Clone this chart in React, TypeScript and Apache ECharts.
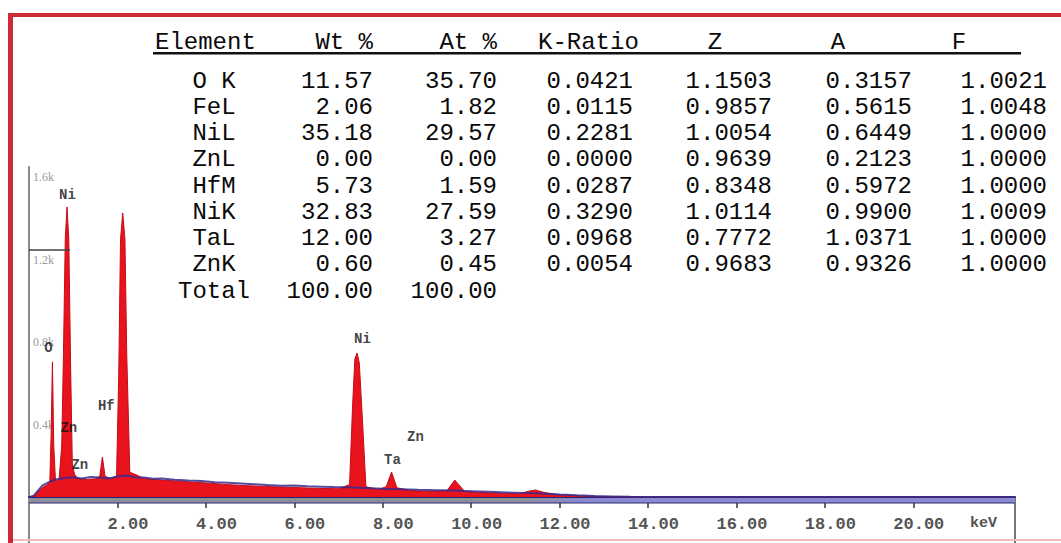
import React, { useEffect, useRef } from "react";
import * as echarts from "echarts";

// ---- spectrum data (keV, counts) ----
const energyRed = [0, 0.12, 0.2, 0.3, 0.4, 0.47, 0.5, 0.53, 0.56, 0.6, 0.68, 0.74, 0.78, 0.82, 0.86, 0.9, 0.94, 0.98, 1.03, 1.08, 1.15, 1.3, 1.5, 1.6, 1.66, 1.72, 1.85, 1.98, 2.03, 2.07, 2.12, 2.17, 2.21, 2.28, 2.45, 2.6, 3.0, 3.5, 4.0, 4.5, 5.0, 5.5, 6.0, 6.5, 7.0, 7.25, 7.32, 7.37, 7.42, 7.47, 7.53, 7.62, 7.9, 8.08, 8.2, 8.32, 8.6, 9.0, 9.45, 9.57, 9.63, 9.72, 9.85, 10.2, 10.7, 11.1, 11.3, 11.45, 11.65, 12.0, 12.5, 13.0, 14.0, 22.3];
const countsRed = [0, 8, 25, 45, 58, 70, 300, 655, 250, 75, 85, 250, 700, 1250, 1406, 1250, 650, 160, 110, 95, 88, 85, 88, 100, 194, 100, 90, 100, 600, 1250, 1377, 1250, 700, 120, 105, 90, 82, 75, 68, 60, 54, 50, 46, 42, 40, 60, 450, 670, 698, 650, 420, 50, 36, 50, 121, 45, 32, 28, 30, 65, 82, 60, 27, 22, 18, 16, 28, 34, 22, 10, 5, 2, 0, 0];

const energyBlue = [0, 0.1, 0.2, 0.3, 0.45, 0.6, 0.8, 1.0, 1.2, 1.4, 1.6, 1.8, 2.0, 2.2, 2.4, 2.6, 2.8, 3.0, 3.3, 3.6, 3.9, 4.2, 4.5, 4.8, 5.1, 5.4, 5.7, 6.0, 6.3, 6.6, 6.9, 7.2, 7.6, 8.0, 8.4, 8.8, 9.2, 9.6, 10.0, 10.4, 10.8, 11.2, 11.6, 12.0, 12.4, 12.8, 13.2, 13.6, 14.0, 22.3];
const countsBlue = [0, 4, 30, 55, 72, 85, 92, 96, 90, 97, 94, 90, 99, 104, 96, 94, 88, 90, 84, 80, 77, 72, 69, 66, 62, 58, 55, 56, 52, 50, 48, 47, 44, 40, 38, 35, 33, 31, 28, 25, 22, 20, 17, 12, 8, 5, 3, 1, 0, 0];

const xTicks = [2, 4, 6, 8, 10, 12, 14, 16, 18, 20];
const yTicks = [400, 800, 1200, 1600];
const markerCount = 1200;

// peak labels: [keV, counts, name]
const peakLabels: [number, number, string][] = [
  [0.87, 1465, "Ni"],
  [0.44, 723, "O"],
  [1.75, 443, "Hf"],
  [0.9, 333, "Zn"],
  [1.15, 154, "Zn"],
  [7.54, 766, "Ni"],
  [8.22, 178, "Ta"],
  [8.74, 289, "Zn"],
];

// ---- table data ----
const tableHeaders = ["Element", "Wt %", "At %", "K-Ratio", "Z", "A", "F"];
const elements = ["O K", "FeL", "NiL", "ZnL", "HfM", "NiK", "TaL", "ZnK", "Total"];
const wtPct = ["11.57", "2.06", "35.18", "0.00", "5.73", "32.83", "12.00", "0.60", "100.00"];
const atPct = ["35.70", "1.82", "29.57", "0.00", "1.59", "27.59", "3.27", "0.45", "100.00"];
const kRatio = ["0.0421", "0.0115", "0.2281", "0.0000", "0.0287", "0.3290", "0.0968", "0.0054"];
const zCol = ["1.1503", "0.9857", "1.0054", "0.9639", "0.8348", "1.0114", "0.7772", "0.9683"];
const aCol = ["0.3157", "0.5615", "0.6449", "0.2123", "0.5972", "0.9900", "1.0371", "0.9326"];
const fCol = ["1.0021", "1.0048", "1.0000", "1.0000", "1.0000", "1.0009", "1.0000", "1.0000"];

const MONO = "'Liberation Mono', 'DejaVu Sans Mono', monospace";

export default function App() {
  const ref = useRef<HTMLDivElement>(null);
  useEffect(() => {
    if (!ref.current) return;
    const chart = echarts.init(ref.current, undefined, { renderer: "svg" });

    const tableFont = { fontFamily: MONO, fontSize: 24, fill: "#0a0a0a" };
    const rowY = (i: number) => 81 + i * 26.25;
    const graphics: any[] = [];

    // frame
    graphics.push({ type: "rect", shape: { x: 8, y: 13, width: 1060, height: 4 }, style: { fill: "#cc2a36" }, z: 100 });
    graphics.push({ type: "rect", shape: { x: 8, y: 13, width: 5, height: 530 }, style: { fill: "#cc2a36" }, z: 100 });
    graphics.push({ type: "rect", shape: { x: 13, y: 539, width: 1048, height: 2 }, style: { fill: "#f3b9bd" }, z: 100 });
    // plot chrome below axis
    graphics.push({
      type: "rect",
      shape: { x: 29, y: 498, width: 986, height: 5 },
      style: {
        fill: new echarts.graphic.LinearGradient(0, 0, 1, 0, [
          { offset: 0, color: "#8f8f9c" },
          { offset: 0.5, color: "#8f8f9c" },
          { offset: 0.56, color: "#8a8ad0" },
          { offset: 1, color: "#8a8ad0" },
        ]),
      },
      z: 1,
    });
    graphics.push({ type: "line", shape: { x1: 29, y1: 503, x2: 1015, y2: 503 }, style: { stroke: "#2a2a70", lineWidth: 1 }, z: 1 });
    graphics.push({ type: "line", shape: { x1: 29, y1: 497, x2: 29, y2: 543 }, style: { stroke: "#888", lineWidth: 2 } });
    graphics.push({ type: "line", shape: { x1: 1015, y1: 497, x2: 1015, y2: 543 }, style: { stroke: "#777", lineWidth: 2 } });
    graphics.push({ type: "text", x: 970, y: 523, style: { text: "keV", fontFamily: MONO, fontSize: 15, fontWeight: "bold", fill: "#555", verticalAlign: "middle" } });

    // table header
    const headerPos: [number, string][] = [
      [155, "left"], [373, "right"], [497, "right"], [538, "left"], [715, "center"], [838, "center"], [959, "center"],
    ];
    tableHeaders.forEach((h, i) => {
      graphics.push({
        type: "text",
        x: headerPos[i][0],
        y: 42,
        style: { ...tableFont, text: h, align: headerPos[i][1], verticalAlign: "middle" },
      });
    });
    graphics.push({ type: "rect", shape: { x: 153, y: 52, width: 868, height: 2.5 }, style: { fill: "#111" } });

    const cols: [string[], number, string][] = [
      [elements, 214, "center"],
      [wtPct, 373, "right"],
      [atPct, 497, "right"],
      [kRatio, 633, "right"],
      [zCol, 772, "right"],
      [aCol, 912, "right"],
      [fCol, 1047, "right"],
    ];
    cols.forEach(([vals, x, align]) => {
      vals.forEach((v, i) => {
        graphics.push({
          type: "text",
          x,
          y: rowY(i),
          style: { ...tableFont, text: v, align, verticalAlign: "middle" },
        });
      });
    });

    const option: any = {
      animation: false,
      backgroundColor: "#ffffff",
      grid: { left: 29, right: 46, top: 167, bottom: 46 },
      xAxis: {
        type: "value",
        min: 0,
        max: 22.3,
        interval: 2,
        axisLine: { show: true, lineStyle: { color: "#22226e", width: 2 } },
        axisTick: { show: true, length: 11, customValues: xTicks, lineStyle: { color: "#333", width: 1.5 } },
        axisLabel: {
          customValues: xTicks,
          margin: 19,
          align: "center",
          formatter: (v: number) => `{a|${v.toFixed(2)}}`,
          rich: {
            a: { width: 62, align: "right", fontFamily: MONO, fontSize: 17, fontWeight: "bold", color: "#555" },
          },
        },
        splitLine: { show: false },
      },
      yAxis: {
        type: "value",
        min: 0,
        max: 1600,
        interval: 400,
        axisLine: { show: true, lineStyle: { color: "#888", width: 2 } },
        axisTick: { show: false },
        axisLabel: {
          inside: true,
          customValues: yTicks,
          margin: 4,
          verticalAlign: "top",
          padding: [4, 0, 0, 0],
          fontFamily: "'Liberation Serif', serif",
          fontSize: 12,
          color: "#9a9a9a",
          formatter: (v: number) => (v / 1000).toFixed(1) + "k",
        },
        splitLine: { show: false },
      },
      series: [
        {
          type: "line",
          data: energyRed.map((e, i) => [e, countsRed[i]]),
          showSymbol: false,
          lineStyle: { width: 1, color: "#c40d18" },
          areaStyle: { color: "#e8131d", opacity: 1 },
          z: 2,
          markLine: {
            silent: true,
            symbol: "none",
            label: { show: false },
            lineStyle: { color: "#444", width: 1.5, type: "solid" },
            data: [[{ coord: [0, markerCount] }, { coord: [0.93, markerCount] }]],
          },
        },
        {
          type: "line",
          data: energyBlue.map((e, i) => [e, countsBlue[i]]),
          showSymbol: false,
          lineStyle: { width: 2, color: "#3b2a8c", opacity: 0.85 },
          z: 3,
        },
        {
          type: "scatter",
          data: peakLabels,
          symbolSize: 0,
          z: 5,
          label: {
            show: true,
            position: "inside",
            formatter: (p: any) => p.data[2],
            fontFamily: MONO,
            fontSize: 14,
            fontWeight: "bold",
            color: "#111",
          },
        },
      ],
      graphic: graphics,
    };
    chart.setOption(option);
    return () => chart.dispose();
  }, []);

  return (
    <div
      ref={ref}
      style={{ position: "fixed", left: 0, top: 0, width: 1061, height: 543, background: "#fff" }}
    />
  );
}
